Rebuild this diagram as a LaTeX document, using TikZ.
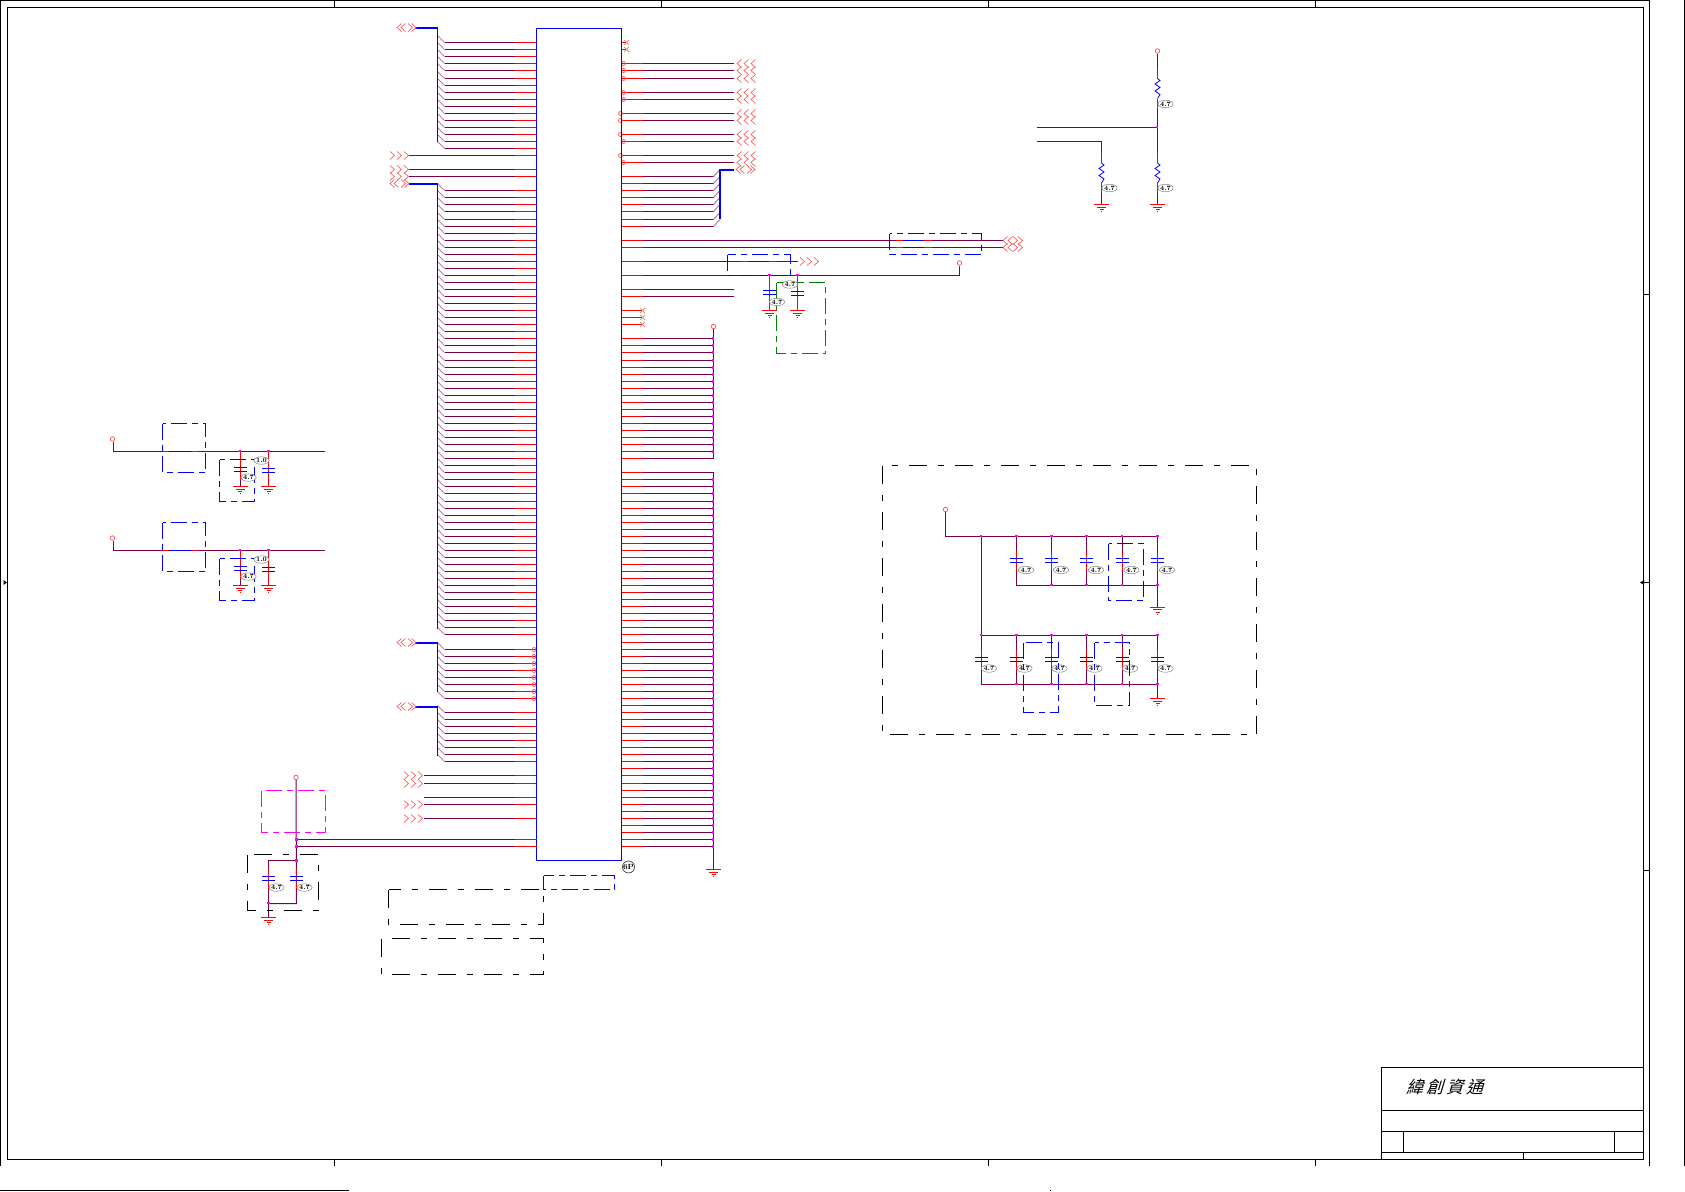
\documentclass[tikz,border=0pt]{standalone}
\usepackage{fontspec}
\usetikzlibrary{shapes.geometric,calc}
\newfontfamily\cjkf[FakeSlant=0.3]{Noto Sans CJK TC}
\definecolor{wirec}{HTML}{7A0048}
\definecolor{ripc}{HTML}{B87FA0}
\definecolor{chevc}{HTML}{FF6060}
\definecolor{ncc}{HTML}{C8A080}
\definecolor{greenb}{HTML}{008000}
\definecolor{magp}{RGB}{255,0,255}
\tikzset{
 wire/.style={draw=wirec,line width=1pt},
 stub/.style={draw=red,line width=1pt},
 bluew/.style={draw=blue,line width=1pt},
 rip/.style={draw=ripc,line width=1pt},
 bus/.style={draw=blue,line width=1pt},
 thickbus/.style={draw=blue,line width=2pt},
 chev/.style={draw=chevc,line width=0.7pt},
 frameline/.style={draw=black,line width=1pt},
 term/.style={circle,draw=chevc,line width=0.8pt,inner sep=0pt,minimum size=4.5pt,fill=white},
 jct/.style={rectangle,fill=magp,inner sep=0pt,minimum size=2.6pt},
 bluebox/.style={draw=blue,line width=1pt,dash pattern=on 16pt off 5pt on 6pt off 5pt},
 greenbox/.style={draw=greenb,line width=1pt,dash pattern=on 16pt off 5pt on 6pt off 5pt},
 magbox/.style={draw=magp,line width=1pt,dash pattern=on 16pt off 5pt on 6pt off 5pt},
 blackbox/.style={draw=black,line width=1pt,dash pattern=on 18pt off 11pt on 6pt off 11pt},
 chipbox/.style={draw=blue,line width=1pt,inner sep=0pt,outer sep=0pt,minimum width=85pt,minimum height=832pt},
 val/.style={ellipse,draw=gray,line width=0.5pt,fill=white,inner sep=0pt,minimum width=12pt,minimum height=7.5pt,font=\fontsize{6.5}{6.5}\selectfont\bfseries,text=black},
}
\newcommand\chR[2]{\draw[chev] (#1,#2-4)--(#1+4.5,#2)--(#1,#2+4);}
\newcommand\chL[2]{\draw[chev] (#1+4.5,#2-4)--(#1,#2)--(#1+4.5,#2+4);}
\newcommand\arrR[2]{\chR{#1}{#2}\chR{#1+7}{#2}\chR{#1+14}{#2}}
\newcommand\arrL[2]{\chL{#1}{#2}\chL{#1+7}{#2}\chL{#1+14}{#2}}
\newcommand\arrB[2]{\chL{#1}{#2}\chL{#1+4}{#2}\chR{#1+11}{#2}\chR{#1+14.5}{#2}}
\newcommand\gndsym[2]{\draw[stub] (#1-7.5,#2)--(#1+7.5,#2) (#1-4.5,#2+2.5)--(#1+4.5,#2+2.5) (#1-2,#2+5)--(#1+2,#2+5) (#1-0.5,#2+7)--(#1+0.5,#2+7);}
\newcommand\capv[4]{\draw[wire] (#1,#2)--(#1,#4);\draw[stub] (#1,#3-8)--(#1,#3+12);\draw[bluew] (#1-6.5,#3)--(#1+6.5,#3) (#1-6.5,#3+4)--(#1+6.5,#3+4);}
\newcommand\resv[2]{\draw[stub] (#1,#2-10)--(#1,#2+30);\fill[white] (#1-3,#2)rectangle(#1+3,#2+20);\draw[draw=blue,line width=0.8pt] (#1,#2)--(#1+2.5,#2+2)--(#1-2.5,#2+5.5)--(#1+2.5,#2+9)--(#1-2.5,#2+12.5)--(#1+2.5,#2+16)--(#1,#2+20);}
\newcommand\ncm[2]{\draw[draw=ncc,line width=0.8pt] (#1-2.5,#2-2.5)--(#1+2.5,#2+2.5) (#1-2.5,#2+2.5)--(#1+2.5,#2-2.5);}
\newcommand\rowy[1]{\pgfmathsetmacro\yy{round(42.25+7.05*#1)+0.5}}
\begin{document}
\begin{tikzpicture}[x=1pt,y=-1pt]
\useasboundingbox (0,0) rectangle (1685,1191);
% ---- frame
\draw[frameline] (0.5,1166)--(0.5,0.5)--(1649.5,0.5)--(1649.5,1166);
\draw[frameline] (1684.5,0)--(1684.5,1166);
\draw[frameline] (7.5,1159.5)--(7.5,7.5)--(1643.5,7.5)--(1643.5,1159.5)--cycle;
\foreach \xx in {334.5,661.5,988.5,1315.5}{\draw[frameline] (\xx,0.5)--(\xx,7.5) (\xx,1159.5)--(\xx,1166);}
\foreach \yy in {294.5,582.5,870.5}{\draw[frameline] (1643.5,\yy)--(1649.5,\yy);}
\fill (3.5,580)--(7,582.5)--(3.5,585)--cycle;
\fill (1640,582.5)--(1644,580)--(1644,585)--cycle;
\draw[frameline] (0,1190.5)--(349,1190.5);
\fill (1050,1190) rectangle (1051,1191);
% ---- title block
\draw[frameline] (1381.5,1159.5)--(1381.5,1067.5)--(1643.5,1067.5);
\draw[frameline] (1381.5,1110.5)--(1643.5,1110.5) (1381.5,1131.5)--(1643.5,1131.5) (1381.5,1152.5)--(1643.5,1152.5);
\draw[frameline] (1403.5,1131.5)--(1403.5,1152.5) (1614.5,1131.5)--(1614.5,1152.5) (1523.5,1152.5)--(1523.5,1159.5);
\node[anchor=west,inner sep=0pt,font=\fontsize{17}{17}\cjkf] (title) at (1406,1087) {緯\hspace{3pt}創\hspace{3pt}資\hspace{3pt}通};
% ---- pin coordinates
\foreach \i in {0,...,114}{
  \rowy{\i}
  \coordinate (L\i) at (536.5,\yy);
  \coordinate (R\i) at (621.5,\yy);
}
% ---- left buses
\foreach \i in {0,...,15,21,22,...,84,86,87,...,93,95,96,...,102}{
  \draw[wire] (L\i) -- ++(-92,0);
  \draw[rip] (L\i) ++(-92,0) -- ++(-7,-7);
  \draw[stub] (L\i) -- ++(-22,0);
}
\coordinate (bus1t) at (415,27.5);
\coordinate (bus2t) at (409,183.5);
\coordinate (bus3t) at (415,642.5);
\coordinate (bus4t) at (415,706.5);
\draw[thickbus] (bus1t) -- (437.5,27.5);\draw[bus] (437.5,27.5)--(437.5,141.5);
\draw[thickbus] (bus2t) -- (437.5,183.5);\draw[bus] (437.5,183.5)--(437.5,628.5);
\draw[thickbus] (bus3t) -- (437.5,642.5);\draw[bus] (437.5,642.5)--(437.5,691.5);
\draw[thickbus] (bus4t) -- (437.5,706.5);\draw[bus] (437.5,706.5)--(437.5,755.5);
\arrB{397}{27.5}\arrB{390}{183.5}\arrB{397}{642.5}\arrB{397}{706.5}
% ---- left single rows
\foreach \i in {16,18,19}{\rowy{\i}\draw[wire] (L\i) -- ++(-127.5,0);\draw[stub] (L\i) -- ++(-22,0);\arrR{390}{\yy}}
\foreach \i in {104,105,107,108,110}{\draw[wire] (L\i) -- ++(-113,0);\draw[stub] (L\i) -- ++(-22,0);}
\foreach \i in {104,105,108,110}{\rowy{\i}\arrR{404}{\yy}}
\foreach \i in {86,...,93}{\node[term,minimum size=4pt,fill=none] (lc\i) at ($(L\i)+(-2.5,0)$) {};}
% ---- right rows with chevrons
\foreach \i in {3,4,5,7,8,10,11,13,14,16,17}{\rowy{\i}\draw[wire] (R\i) -- ++(112.5,0);\draw[stub] (R\i) -- ++(21,0);\arrL{737}{\yy}}
\foreach \i in {3,4,5,7,8,14,17}{\node[term,minimum size=4pt,fill=none] (rc\i) at ($(R\i)+(2,0)$) {};}
\foreach \i in {10,11,13,16}{\node[term,minimum size=4pt,fill=none] (rc\i) at ($(R\i)+(-1,0)$) {};}
\foreach \i in {0,1}{\rowy{\i}\draw[stub] (R\i) -- ++(5,0);\ncm{626.5}{\yy}}
\foreach \i in {38,39,40}{\rowy{\i}\draw[stub] (R\i) -- ++(20,0);\ncm{642.5}{\yy}}
% ---- right bus
\foreach \i in {19,...,26}{
  \draw[wire] (R\i) -- ++(92,0);
  \draw[rip] (R\i) ++(92,0) -- ++(6.5,-7);
  \draw[stub] (R\i) -- ++(21,0);
}
\coordinate (bus5t) at (734,169.5);
\draw[thickbus] (bus5t) -- (719.5,169.5) -- (719.5,218.5);
\arrB{736}{169.5}
% ---- long rows
\foreach \i in {28,29}{\draw[wire] (R\i) -- ++(381,0);\draw[stub] (R\i) -- ++(21,0);
  \draw[stub] (R\i) ++(274,0) -- ++(36.5,0);\draw[bluew] (R\i) ++(281.5,0) -- ++(21,0);}
\chL{1003}{240.5}\chL{1003}{247.5}\chL{1008}{240.5}\chL{1008}{247.5}\chR{1013}{240.5}\chR{1013}{247.5}\chR{1018}{240.5}\chR{1018}{247.5}
\draw[bluebox] (889.5,233.5) rectangle (981.5,254.5);
\draw[wire] (R31) -- ++(176,0);\draw[stub] (R31) -- ++(21,0);
\draw[stub] (741,261.5) -- (776.5,261.5);\draw[bluew] (748,261.5) -- (769,261.5);
\arrR{800}{261.5}
% row 33 with terminal
\node[term] (t33) at (959.5,263) {};
\draw[wire] (R33) -- (959.5,275.5) -- (t33);
\draw[stub] (R33) -- ++(21,0);
\draw[stub] (959.5,268) -- (t33);
\draw[bluebox] (727.5,254.5) rectangle (790.5,275.5);
\foreach \i in {35,36}{\draw[wire] (R\i) -- ++(112.5,0);\draw[stub] (R\i) -- ++(21,0);}
% caps near
\capv{769.5}{275.5}{290.5}{310}
\capv{797.5}{275.5}{291.5}{310}
\draw[stub] (769.5,276) -- (769.5,310) (797.5,276) -- (797.5,310);
\draw[bluew] (763,290.5)--(776,290.5) (763,294.5)--(776,294.5) (791,291.5)--(804,291.5) (791,295.5)--(804,295.5);
\gndsym{769.5}{310.5}\gndsym{797.5}{310.5}
\node[jct] at (769.5,275) {};\node[jct] at (797.5,275) {};
\draw[greenbox] (776.5,282.5) rectangle (825.5,353.5);
\node[val] at (777,302) {4.7};
\node[val] at (790,284.5) {4.7};
% ---- rails
\foreach \i in {42,...,59}{\draw[wire] (R\i) -- ++(92,0);\draw[stub] (R\i) -- ++(21,0);}
\foreach \i in {61,...,114}{\draw[wire] (R\i) -- ++(92,0);\draw[stub] (R\i) -- ++(21,0);}
\node[term] (railt) at (713.5,326.5) {};
\draw[wire] (railt) -- (713.5,458.5);
\draw[wire] (713.5,472.5) -- (713.5,869);
\gndsym{713.5}{869.5}
\foreach \i in {42,...,58,62,63,...,114}{\node[jct] (rj\i) at ($(R\i)+(91.5,0)$) {};}
% ---- main chip
\node[chipbox] (chip) at (579,444.5) {};
\node[circle,draw=black,line width=0.5pt,inner sep=0pt,minimum size=12pt,font=\fontsize{7.5}{7.5}\selectfont\bfseries] (gp) at (628.5,867) {6P};
% ---- boxes below chip
\draw[bluebox] (543.5,875.5) rectangle (614.5,889.5);
\draw[blackbox] (388.5,889.5) rectangle (543.5,924.5);
\draw[blackbox] (381.5,938.5) rectangle (543.5,974.5);
% ---- left-bottom power
\node[term] (pw) at (296,777.5) {};
\draw[wire] (pw) -- (296.5,903.5) -- (268.5,903.5);
\draw[wire] (296.5,860.5) -- (268.5,860.5) -- (268.5,917);
\draw[wire] (296.5,839.5) -- (L113);
\draw[wire] (296.5,846.5) -- (L114);
\draw[stub] (L113) -- ++(-22,0);\draw[stub] (L114) -- ++(-22,0);
\capv{268.5}{860.5}{876.5}{903.5}
\capv{296.5}{860.5}{876.5}{903.5}
\gndsym{268.5}{917.5}
\node[jct] at (296.5,839.5) {};\node[jct] at (296.5,846.5) {};\node[jct] at (296.5,860.5) {};\node[jct] at (268.5,903) {};
\draw[magbox] (261.5,790.5) rectangle (325.5,832.5);
\draw[blackbox] (247.5,854.5) rectangle (318.5,910.5);
\node[val] at (276.5,887.5) {4.7};
\node[val] at (304.5,887.5) {4.7};
% ---- left filters
\foreach \dy in {0,99}{
\begin{scope}[yshift=-\dy pt]
  \node[term] at (112.5,439) {};
  \draw[wire] (113,442) -- (113,451.5) -- (325,451.5);
  \draw[stub] (162.5,451.5) -- (198,451.5);\draw[bluew] (169,451.5) -- (190.5,451.5);
  \draw[bluebox] (162.5,423.5) rectangle (205.5,472.5);
  \capv{240}{451.5}{467.5}{486}
  \capv{268.5}{451.5}{468.5}{486}
  \draw[stub] (240,452)--(240,467) (268.5,452)--(268.5,468) (268.5,473)--(268.5,486);
  \gndsym{240}{486.5}\gndsym{268.5}{486.5}
  \node[jct] at (240,451) {};\node[jct] at (268.5,451) {};
  \draw[bluebox] (219.5,459.5) rectangle (254.5,501.5);
  \node[val] at (248.5,477.5) {4.7};
  \node[val] at (261.5,460.5) {1.0};
\end{scope}}
% ---- resistors top right
\node[term] (t1) at (1157.5,51) {};
\draw[wire] (t1) -- (1157.5,204);
\draw[wire] (1036.5,127.5) -- (1157.5,127.5);
\draw[wire] (1036.5,141.5) -- (1101.5,141.5) -- (1101.5,204);
\resv{1157.5}{78.5}\resv{1157.5}{163}\resv{1101.5}{163}
\gndsym{1157.5}{204.5}\gndsym{1101.5}{204.5}
\node[jct] at (1157,127) {};
\node[val] at (1165.5,104) {4.7};
\node[val] at (1165.5,188) {4.7};
\node[val] at (1109.5,188) {4.7};
% ---- big decap block
\draw[blackbox] (882.5,465.5) rectangle (1256.5,734.5);
\node[term] (t2) at (945.5,509.5) {};
\draw[wire] (t2) -- (945.5,536.5) -- (1157.5,536.5) -- (1157.5,607);
\draw[wire] (981,536.5) -- (981,635.5);
\draw[wire] (981,635.5) -- (1157.5,635.5) -- (1157.5,698);
\draw[wire] (1016.5,585.5) -- (1157.5,585.5);
\draw[wire] (981,684.5) -- (1157.5,684.5);
\foreach \xx in {1016.5,1051.5,1086.5,1122,1157.5}{
  \capv{\xx}{536.5}{558.5}{585.5}
  \node[val] at (\xx+9.5,570) {4.7};
  \node[jct] at (\xx,536) {};
}
\foreach \xx in {981,1016.5,1051.5,1086.5,1122,1157.5}{
  \capv{\xx}{635.5}{657.5}{684.5}
  \node[val] at (\xx+8,668.5) {4.7};
  \node[jct] at (\xx,635) {};
}
\node[jct] at (981,536) {};
\foreach \xx in {1051.5,1086.5,1122,1157.5}{\node[jct] at (\xx,585) {};}
\foreach \xx in {1016.5,1051.5,1086.5,1122,1157.5}{\node[jct] at (\xx,684) {};}
\gndsym{1157.5}{607}\gndsym{1157.5}{698.5}
\draw[bluebox] (1108.5,543.5) rectangle (1143.5,600.5);
\draw[bluebox] (1023.5,642.5) rectangle (1058.5,712.5);
\draw[bluebox] (1094.5,642.5) rectangle (1129.5,705.5);
\end{tikzpicture}
\end{document}
